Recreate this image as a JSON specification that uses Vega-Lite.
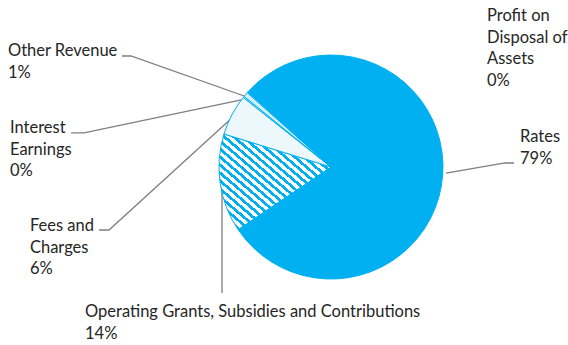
{
  "$schema": "https://vega.github.io/schema/vega-lite/v6.json",
  "width": 568,
  "height": 345,
  "autosize": {"type": "fit", "contains": "padding"},
  "padding": 0,
  "background": "white",
  "config": {"view": {"stroke": null}},
  "datasets": {
    "slices": [
      {"category": "Rates", "value": 78.9, "seq": 1},
      {"category": "Operating Grants, Subsidies and Contributions", "value": 14.2, "seq": 2},
      {"category": "Fees and Charges", "value": 5.9, "seq": 3},
      {"category": "Interest Earnings", "value": 0.2, "seq": 4},
      {"category": "Other Revenue", "value": 0.7, "seq": 5},
      {"category": "Profit on Disposal of Assets", "value": 0.1, "seq": 6}
    ],
    "labels": [
      {"label": "Profit", "text": "Profit on\nDisposal of\nAssets\n0%", "x": 1.393, "y": 1.304},
      {"label": "Other", "text": "Other Revenue\n1%", "x": -2.884, "y": 0.991},
      {"label": "Interest", "text": "Interest\nEarnings\n0%", "x": -2.866, "y": 0.304},
      {"label": "Fees", "text": "Fees and\nCharges\n6%", "x": -2.688, "y": -0.571},
      {"label": "Operating", "text": "Operating Grants, Subsidies and Contributions\n14%", "x": -2.196, "y": -1.339},
      {"label": "Rates", "text": "Rates\n79%", "x": 1.6875, "y": 0.223}
    ],
    "leaders": [
      {"label": "Other", "seq": 1, "x": -1.866, "y": 0.991},
      {"label": "Other", "seq": 2, "x": -1.786, "y": 0.991},
      {"label": "Other", "seq": 3, "x": -0.75, "y": 0.625},
      {"label": "Interest", "seq": 1, "x": -2.321, "y": 0.304},
      {"label": "Interest", "seq": 2, "x": -2.205, "y": 0.304},
      {"label": "Interest", "seq": 3, "x": -0.768, "y": 0.607},
      {"label": "Fees", "seq": 1, "x": -2.071, "y": -0.5625},
      {"label": "Fees", "seq": 2, "x": -1.982, "y": -0.5625},
      {"label": "Fees", "seq": 3, "x": -0.875, "y": 0.446},
      {"label": "Operating", "seq": 1, "x": -0.973, "y": -1.125},
      {"label": "Operating", "seq": 2, "x": -0.973, "y": -0.143},
      {"label": "Rates", "seq": 1, "x": 1.027, "y": -0.054},
      {"label": "Rates", "seq": 2, "x": 1.554, "y": 0.036},
      {"label": "Rates", "seq": 3, "x": 1.634, "y": 0.036}
    ]
  },
  "layer": [
    {
      "data": {"name": "leaders"},
      "mark": {"type": "line", "color": "#7f7f7f", "strokeWidth": 1.3},
      "encoding": {
        "x": {"field": "x", "type": "quantitative", "scale": {"domain": [-2.955, 2.116], "nice": false, "zero": false}, "axis": null},
        "y": {"field": "y", "type": "quantitative", "scale": {"domain": [-1.589, 1.491], "nice": false, "zero": false}, "axis": null},
        "detail": {"field": "label"},
        "order": {"field": "seq", "type": "quantitative"}
      }
    },
    {
      "data": {"name": "slices"},
      "mark": {"type": "arc", "outerRadius": 112, "stroke": "#00B0F0", "strokeWidth": 1},
      "encoding": {
        "x": {"datum": 0, "type": "quantitative"},
        "y": {"datum": 0, "type": "quantitative"},
        "theta": {"field": "value", "type": "quantitative", "stack": true, "scale": {"range": [-0.8378, 5.4454]}},
        "order": {"field": "seq", "type": "quantitative"},
        "fill": {
          "condition": [
            {"test": "datum.seq === 2", "value": {
              "gradient": "linear", "x1": 0, "y1": 1, "x2": 1, "y2": 0,
              "stops": [
                {"offset": 0, "color": "#00B0F0"}, {"offset": 0.0188, "color": "#00B0F0"}, {"offset": 0.0188, "color": "#ffffff"}, {"offset": 0.0417, "color": "#ffffff"},
                {"offset": 0.0417, "color": "#00B0F0"}, {"offset": 0.0604, "color": "#00B0F0"}, {"offset": 0.0604, "color": "#ffffff"}, {"offset": 0.0833, "color": "#ffffff"},
                {"offset": 0.0833, "color": "#00B0F0"}, {"offset": 0.1021, "color": "#00B0F0"}, {"offset": 0.1021, "color": "#ffffff"}, {"offset": 0.125, "color": "#ffffff"},
                {"offset": 0.125, "color": "#00B0F0"}, {"offset": 0.1438, "color": "#00B0F0"}, {"offset": 0.1438, "color": "#ffffff"}, {"offset": 0.1667, "color": "#ffffff"},
                {"offset": 0.1667, "color": "#00B0F0"}, {"offset": 0.1854, "color": "#00B0F0"}, {"offset": 0.1854, "color": "#ffffff"}, {"offset": 0.2083, "color": "#ffffff"},
                {"offset": 0.2083, "color": "#00B0F0"}, {"offset": 0.2271, "color": "#00B0F0"}, {"offset": 0.2271, "color": "#ffffff"}, {"offset": 0.25, "color": "#ffffff"},
                {"offset": 0.25, "color": "#00B0F0"}, {"offset": 0.2688, "color": "#00B0F0"}, {"offset": 0.2688, "color": "#ffffff"}, {"offset": 0.2917, "color": "#ffffff"},
                {"offset": 0.2917, "color": "#00B0F0"}, {"offset": 0.3104, "color": "#00B0F0"}, {"offset": 0.3104, "color": "#ffffff"}, {"offset": 0.3333, "color": "#ffffff"},
                {"offset": 0.3333, "color": "#00B0F0"}, {"offset": 0.3521, "color": "#00B0F0"}, {"offset": 0.3521, "color": "#ffffff"}, {"offset": 0.375, "color": "#ffffff"},
                {"offset": 0.375, "color": "#00B0F0"}, {"offset": 0.3938, "color": "#00B0F0"}, {"offset": 0.3938, "color": "#ffffff"}, {"offset": 0.4167, "color": "#ffffff"},
                {"offset": 0.4167, "color": "#00B0F0"}, {"offset": 0.4354, "color": "#00B0F0"}, {"offset": 0.4354, "color": "#ffffff"}, {"offset": 0.4583, "color": "#ffffff"},
                {"offset": 0.4583, "color": "#00B0F0"}, {"offset": 0.4771, "color": "#00B0F0"}, {"offset": 0.4771, "color": "#ffffff"}, {"offset": 0.5, "color": "#ffffff"},
                {"offset": 0.5, "color": "#00B0F0"}, {"offset": 0.5188, "color": "#00B0F0"}, {"offset": 0.5188, "color": "#ffffff"}, {"offset": 0.5417, "color": "#ffffff"},
                {"offset": 0.5417, "color": "#00B0F0"}, {"offset": 0.5604, "color": "#00B0F0"}, {"offset": 0.5604, "color": "#ffffff"}, {"offset": 0.5833, "color": "#ffffff"},
                {"offset": 0.5833, "color": "#00B0F0"}, {"offset": 0.6021, "color": "#00B0F0"}, {"offset": 0.6021, "color": "#ffffff"}, {"offset": 0.625, "color": "#ffffff"},
                {"offset": 0.625, "color": "#00B0F0"}, {"offset": 0.6438, "color": "#00B0F0"}, {"offset": 0.6438, "color": "#ffffff"}, {"offset": 0.6667, "color": "#ffffff"},
                {"offset": 0.6667, "color": "#00B0F0"}, {"offset": 0.6854, "color": "#00B0F0"}, {"offset": 0.6854, "color": "#ffffff"}, {"offset": 0.7083, "color": "#ffffff"},
                {"offset": 0.7083, "color": "#00B0F0"}, {"offset": 0.7271, "color": "#00B0F0"}, {"offset": 0.7271, "color": "#ffffff"}, {"offset": 0.75, "color": "#ffffff"},
                {"offset": 0.75, "color": "#00B0F0"}, {"offset": 0.7688, "color": "#00B0F0"}, {"offset": 0.7688, "color": "#ffffff"}, {"offset": 0.7917, "color": "#ffffff"},
                {"offset": 0.7917, "color": "#00B0F0"}, {"offset": 0.8104, "color": "#00B0F0"}, {"offset": 0.8104, "color": "#ffffff"}, {"offset": 0.8333, "color": "#ffffff"},
                {"offset": 0.8333, "color": "#00B0F0"}, {"offset": 0.8521, "color": "#00B0F0"}, {"offset": 0.8521, "color": "#ffffff"}, {"offset": 0.875, "color": "#ffffff"},
                {"offset": 0.875, "color": "#00B0F0"}, {"offset": 0.8938, "color": "#00B0F0"}, {"offset": 0.8938, "color": "#ffffff"}, {"offset": 0.9167, "color": "#ffffff"},
                {"offset": 0.9167, "color": "#00B0F0"}, {"offset": 0.9354, "color": "#00B0F0"}, {"offset": 0.9354, "color": "#ffffff"}, {"offset": 0.9583, "color": "#ffffff"},
                {"offset": 0.9583, "color": "#00B0F0"}, {"offset": 0.9771, "color": "#00B0F0"}, {"offset": 0.9771, "color": "#ffffff"}, {"offset": 1, "color": "#ffffff"}
              ]
            }},
            {"test": "datum.seq === 3", "value": "#edf8fd"},
            {"test": "datum.seq === 4", "value": "#e3f5fd"},
            {"test": "datum.seq === 5", "value": "#d2effb"},
            {"test": "datum.seq === 6", "value": "#d2effb"}
          ],
          "value": "#00B0F0"
        }
      }
    },
    {
      "data": {"name": "labels"},
      "mark": {"type": "text", "align": "left", "baseline": "alphabetic", "lineBreak": "\n", "lineHeight": 21.7, "font": "Lato", "fontSize": 16.5, "color": "#262626"},
      "encoding": {
        "x": {"field": "x", "type": "quantitative"},
        "y": {"field": "y", "type": "quantitative"},
        "text": {"field": "text"}
      }
    }
  ]
}
